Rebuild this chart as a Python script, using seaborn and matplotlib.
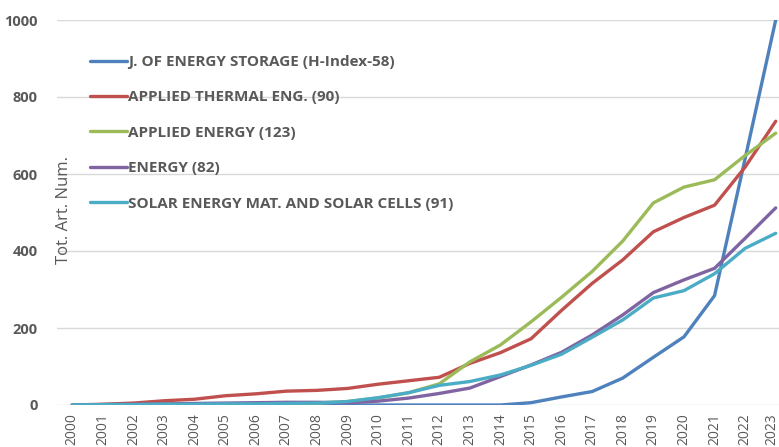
import numpy as np
import pandas as pd
import matplotlib
matplotlib.use("Agg")
import matplotlib.pyplot as plt
import matplotlib.transforms as mtransforms
import seaborn as sns

years = list(range(2000, 2024))

energy_storage = [0, 0, 0, 0, 0, 0, 0, 0, 0, 0, 0, 0, 0, 0, 0, 6, 21, 35, 70, 124, 177, 284, 640, 1000]
thermal_eng = [0, 2, 5, 11, 15, 24, 29, 36, 38, 43, 54, 63, 72, 108, 136, 172, 246, 316, 377, 450, 487, 519, 618, 737]
applied_energy = [0, 1, 1, 2, 2, 3, 3, 4, 5, 9, 18, 32, 55, 112, 156, 216, 280, 347, 426, 525, 566, 585, 648, 706]
energy = [0, 1, 2, 3, 4, 5, 6, 7, 7, 6, 10, 18, 30, 44, 74, 104, 137, 182, 234, 292, 325, 355, 433, 512]
solar_cells = [0, 1, 1, 2, 2, 3, 3, 4, 5, 9, 19, 32, 51, 61, 78, 103, 132, 176, 221, 278, 297, 341, 407, 446]

series_names = [
    "J. OF ENERGY STORAGE (H-Index-58)",
    "APPLIED THERMAL ENG. (90)",
    "APPLIED ENERGY (123)",
    "ENERGY (82)",
    "SOLAR ENERGY MAT. AND SOLAR CELLS (91)",
]
colors = ["#4F81BD", "#C0504D", "#9BBB59", "#8064A2", "#4BACC6"]

df = pd.DataFrame({
    "year": [str(y) for y in years] * 5,
    "value": energy_storage + thermal_eng + applied_energy + energy + solar_cells,
    "series": np.repeat(series_names, len(years)),
})

sns.set_style("white")
plt.rcParams["font.family"] = ["Open Sans", "DejaVu Sans"]

fig = plt.figure(figsize=(7.79, 4.47), dpi=100)
ax = fig.add_axes([57 / 779, 42 / 447, 734 / 779, 385 / 447])

sns.lineplot(data=df, x="year", y="value", hue="series", hue_order=series_names,
             palette=colors, linewidth=2.4, sort=False, ax=ax, legend=True)

ax.set_xlim(-0.5, 23.5)
ax.set_ylim(0, 1000)
ax.set_yticks([0, 200, 400, 600, 800, 1000])
ax.yaxis.grid(True, color="#D9D9D9", linewidth=1)
ax.set_axisbelow(True)
for s in ax.spines.values():
    s.set_visible(False)
ax.set_xlabel("")
ax.set_ylabel("")
ax.tick_params(axis="both", length=0, colors="#595959")
ax.tick_params(axis="y", pad=14)
ax.tick_params(axis="x", pad=6)
for lab in ax.get_yticklabels():
    lab.set_fontsize(10.5)
    lab.set_fontweight("bold")
for lab in ax.get_xticklabels():
    lab.set_fontsize(10)
    lab.set_rotation(90)
    lab.set_va("top")

# last year label sits at the right edge, nudge it in a little
last = ax.get_xticklabels()[-1]
last.set_transform(last.get_transform() + mtransforms.ScaledTranslation(-4 / 100, 0, fig.dpi_scale_trans))

fig.text(64 / 779, 1 - 210 / 447, "Tot. Art. Num.", rotation=90, ha="center", va="center",
         fontsize=12, color="#595959")

handles, labels = ax.get_legend_handles_labels()
ax.legend(handles, labels, loc="upper left", bbox_to_anchor=(90 / 779, 1 - 55 / 447),
          bbox_transform=fig.transFigure, frameon=False, borderpad=0, borderaxespad=0,
          handlelength=2.4, handletextpad=0.1, labelspacing=1.4,
          prop={"size": 11, "weight": "bold"}, labelcolor="#595959")

fig.savefig("out.png", dpi=100)
